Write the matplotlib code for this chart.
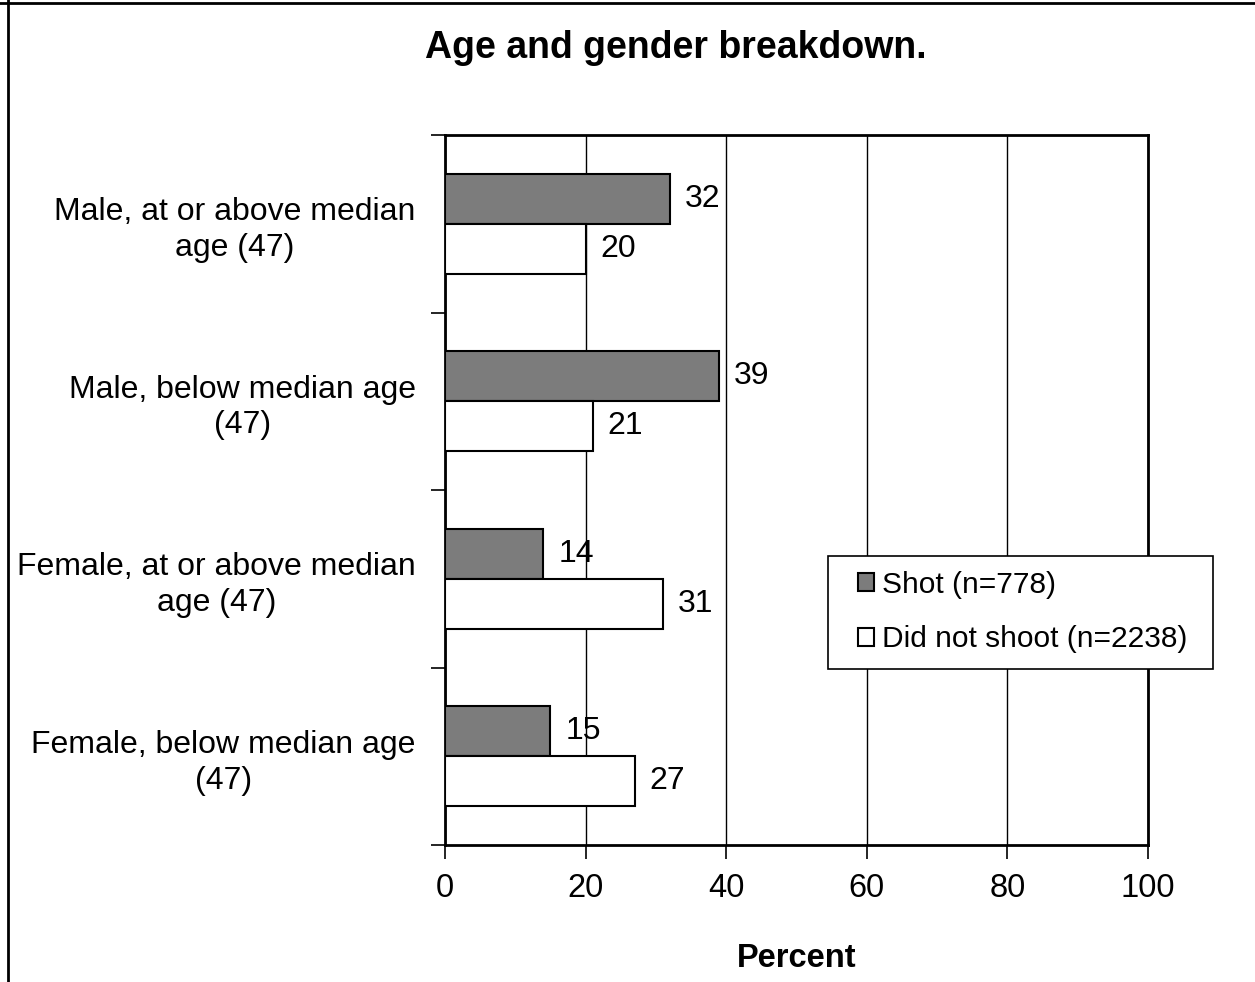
import matplotlib
matplotlib.use("Agg")
import matplotlib.pyplot as plt
from matplotlib.lines import Line2D
from matplotlib.patches import Rectangle
import numpy as np

plt.rcParams['font.family'] = ['Liberation Sans', 'DejaVu Sans']

categories = ["Male, at or above median\nage (47)",
              "Male, below median age\n(47)",
              "Female, at or above median\nage (47)",
              "Female, below median age\n(47)"]
shot = [32, 39, 14, 15]
not_shot = [20, 21, 31, 27]
series_names = ["Shot (n=778)", "Did not shoot (n=2238)"]
xticks = [0, 20, 40, 60, 80, 100]

fig = plt.figure(figsize=(12.55, 9.82), dpi=100)
ax = fig.add_axes([445/1255, 1-845/982, (1148-445)/1255, (845-135)/982])

y = np.arange(len(categories))
h = 0.2817
ax.barh(y - h/2, shot, height=h, color='#7c7c7c', edgecolor='black', linewidth=1.5, label=series_names[0], zorder=3)
ax.barh(y + h/2, not_shot, height=h, color='white', edgecolor='black', linewidth=1.5, label=series_names[1], zorder=3)

for yy, v in zip(y - h/2, shot):
    ax.annotate(f"{v}", (v, yy), xytext=(15, 0), textcoords='offset pixels',
                va='center', ha='left', fontsize=23, zorder=4)
for yy, v in zip(y + h/2, not_shot):
    ax.annotate(f"{v}", (v, yy), xytext=(15, 0), textcoords='offset pixels',
                va='center', ha='left', fontsize=23, zorder=4)

ax.set_xlim(0, 100)
ax.set_ylim(3.5, -0.5)
ax.set_xticks(xticks)
ax.set_xticklabels([str(t) for t in xticks], fontsize=23.5)
ax.set_yticks([-0.5, 0.5, 1.5, 2.5, 3.5])
ax.set_yticklabels([])
ax.set_yticks(y, minor=True)
ax.set_yticklabels(categories, minor=True, fontsize=23, multialignment='center',
                   linespacing=1.25)
ax.tick_params(axis='y', which='minor', length=0, pad=21)
ax.tick_params(axis='y', which='major', length=10, width=1.2, direction='out')
ax.tick_params(axis='x', length=10, width=1.2, direction='out', pad=10)
ax.grid(axis='x', color='black', linewidth=1.0, zorder=0)
for s in ax.spines.values():
    s.set_linewidth(2)
    s.set_color('black')

ax.set_xlabel("Percent", fontsize=23.5, fontweight='bold', labelpad=28)
fig.text(676/1255, 1-48/982, "Age and gender breakdown.", fontsize=27, fontweight='bold',
         ha='center', va='center')

# legend box
fig.add_artist(Rectangle((828/1255, 1-669/982), (1213-828)/1255, (669-556)/982,
                         transform=fig.transFigure, facecolor='white', edgecolor='black',
                         linewidth=1.2, zorder=5))
leg = fig.legend(loc='center left', bbox_to_anchor=(858/1255, 1-612/982), fontsize=21.5,
                 frameon=False, handlelength=0.55, handleheight=0.55,
                 handletextpad=0.25, labelspacing=0.9, borderpad=0, borderaxespad=0)
leg.set_zorder(6)

fig.add_artist(Line2D([0, 1], [1-3/982, 1-3/982], color='black', linewidth=2, transform=fig.transFigure))
fig.add_artist(Line2D([8/1255, 8/1255], [0, 1], color='black', linewidth=2, transform=fig.transFigure))

fig.savefig("out.png", dpi=100)
